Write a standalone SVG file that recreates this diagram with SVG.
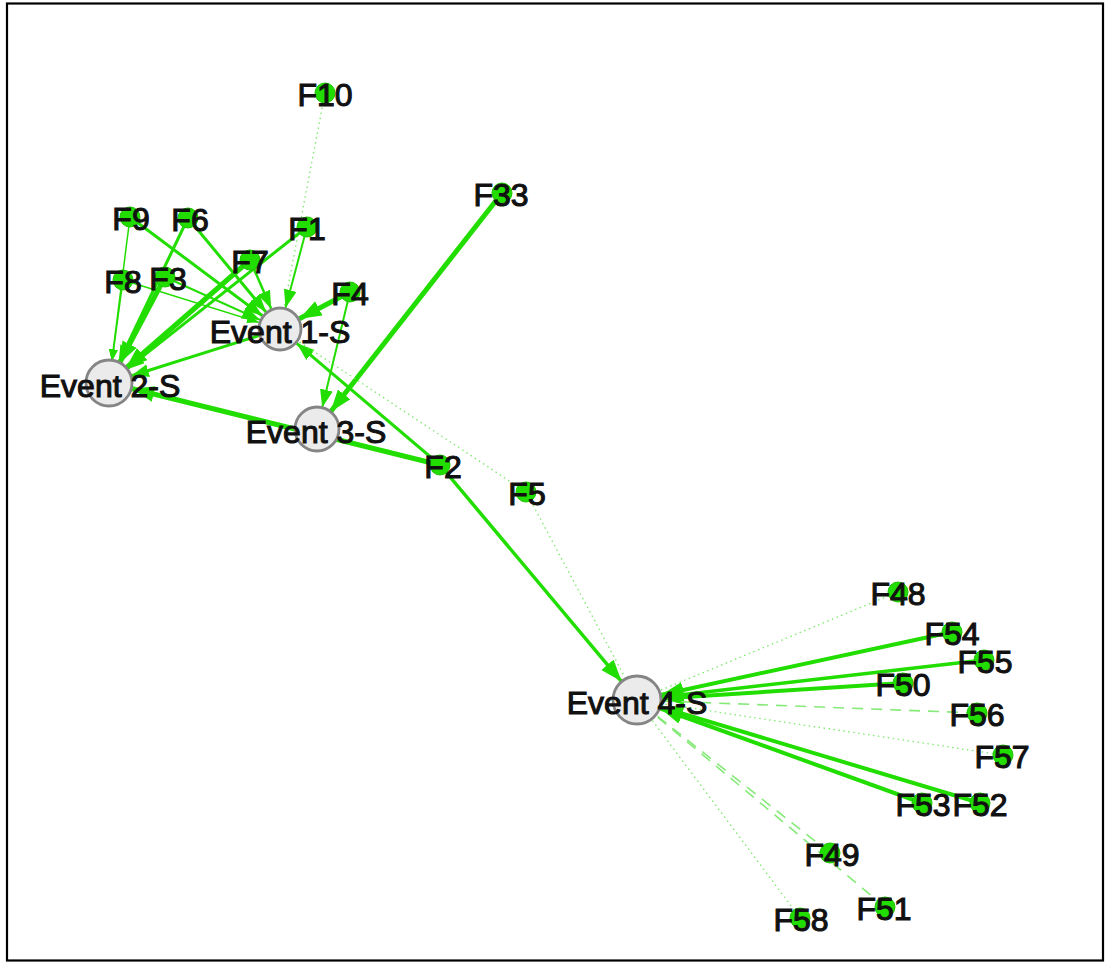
<svg xmlns="http://www.w3.org/2000/svg" width="1108" height="963" viewBox="0 0 1108 963">
  <defs>
    <marker id="arrow-l" markerUnits="userSpaceOnUse" markerWidth="24" markerHeight="18" refX="22" refY="8" orient="auto">
      <path d="M0,0 L22,8 L0,16 z" fill="#22dd00"/>
    </marker>
    <marker id="arrow-m" markerUnits="userSpaceOnUse" markerWidth="20" markerHeight="14" refX="18" refY="6.5" orient="auto">
      <path d="M0,0 L18,6.5 L0,13 z" fill="#22dd00"/>
    </marker>
    <marker id="arrow-s" markerUnits="userSpaceOnUse" markerWidth="14" markerHeight="10" refX="12" refY="4.5" orient="auto">
      <path d="M0,0 L12,4.5 L0,9 z" fill="#22dd00"/>
    </marker>
  </defs>
  <style>
    .edge { fill: none; stroke: #22dd00; stroke-linecap: butt; }
    .dot { fill: none; stroke: #7ce86c; stroke-width: 1.3; stroke-dasharray: 1.5 3.5; }
    .dash { fill: none; stroke: #86ea78; stroke-width: 1.6; stroke-dasharray: 11 8; }
    .event circle { fill: #ebebeb; stroke: #858585; stroke-width: 2.8; }
    .feat circle { fill: #22dd00; stroke: #1cc400; stroke-width: 1; }
    text { font-family: "Liberation Sans", Arial, sans-serif; font-size: 32px; fill: #111; stroke: #111; stroke-width: 1.1; text-anchor: middle; }
  </style>

  <rect x="7" y="3.5" width="1096" height="957" fill="#ffffff" stroke="#000000" stroke-width="2.2"/>

  <g id="connectors">
    <!-- top-left cluster -->
    <line class="dot" x1="325" y1="93" x2="284.1" y2="307.4"/>
    <line class="edge" stroke-width="2" marker-end="url(#arrow-m)" x1="307" y1="227" x2="285.6" y2="307.7"/>
    <line class="edge" stroke-width="3" marker-end="url(#arrow-m)" x1="307" y1="227" x2="126.3" y2="369.4"/>
    <line class="edge" stroke-width="2.5" marker-end="url(#arrow-m)" x1="250" y1="260" x2="271.2" y2="308.8"/>
    <line class="edge" stroke-width="5" marker-end="url(#arrow-l)" x1="250" y1="260" x2="125.6" y2="368.5"/>
    <line class="edge" stroke-width="1.5" marker-end="url(#arrow-s)" x1="130" y1="217" x2="111.8" y2="361.2"/>
    <line class="edge" stroke-width="3" marker-end="url(#arrow-m)" x1="130" y1="217" x2="262.4" y2="315.8"/>
    <line class="edge" stroke-width="3" marker-end="url(#arrow-m)" x1="188" y1="218" x2="266" y2="312.1"/>
    <line class="edge" stroke-width="3" marker-end="url(#arrow-m)" x1="188" y1="218" x2="118.5" y2="363.2"/>
    <line class="edge" stroke-width="1.5" marker-end="url(#arrow-s)" x1="123" y1="280" x2="112" y2="361.2"/>
    <line class="edge" stroke-width="1.5" marker-end="url(#arrow-s)" x1="123" y1="280" x2="259" y2="322.4"/>
    <line class="edge" stroke-width="5" marker-end="url(#arrow-l)" x1="165" y1="277" x2="119.3" y2="363.6"/>
    <line class="edge" stroke-width="2" marker-end="url(#arrow-m)" x1="165" y1="277" x2="260" y2="319.9"/>
    <line class="edge" stroke-width="5" marker-end="url(#arrow-l)" x1="350" y1="292" x2="299.4" y2="318.7"/>
    <line class="edge" stroke-width="2" marker-end="url(#arrow-m)" x1="350" y1="292" x2="322.2" y2="407.6"/>
    <line class="edge" stroke-width="3" marker-end="url(#arrow-m)" x1="259" y1="335.6" x2="131" y2="376"/>
    <line class="edge" stroke-width="5" marker-end="url(#arrow-l)" x1="502" y1="193" x2="330.6" y2="411.7"/>
    <!-- F2 and F5 -->
    <line class="edge" stroke-width="3" marker-end="url(#arrow-m)" x1="440" y1="465" x2="296.8" y2="343.3"/>
    <line class="edge" stroke-width="5" marker-end="url(#arrow-l)" x1="440" y1="465" x2="132.3" y2="388.8"/>
    <line class="edge" stroke-width="3.5" marker-end="url(#arrow-l)" x1="440" y1="465" x2="621.6" y2="681.6"/>
    <line class="dot" x1="526" y1="492" x2="298.3" y2="341.2"/>
    <line class="dot" x1="526" y1="492" x2="625.7" y2="678.8"/>
    <!-- bottom-right cluster -->
    <line class="dot" x1="898" y1="592" x2="660.1" y2="690.4"/>
    <line class="edge" stroke-width="4" marker-end="url(#arrow-l)" x1="952" y1="632" x2="661.4" y2="694.7"/>
    <line class="edge" stroke-width="3.5" marker-end="url(#arrow-l)" x1="984" y1="660" x2="661.8" y2="697.1"/>
    <line class="edge" stroke-width="4" marker-end="url(#arrow-l)" x1="903" y1="683" x2="662" y2="698.4"/>
    <line class="dash" x1="977" y1="713" x2="662" y2="701"/>
    <line class="dot" x1="1003" y1="755" x2="661.7" y2="703.7"/>
    <line class="edge" stroke-width="4" marker-end="url(#arrow-l)" x1="922" y1="803" x2="660.5" y2="708.5"/>
    <line class="edge" stroke-width="4" marker-end="url(#arrow-l)" x1="980" y1="803" x2="661" y2="707.2"/>
    <line class="dash" x1="830" y1="853" x2="656.6" y2="715.5"/>
    <line class="dash" x1="885" y1="907" x2="656.2" y2="716"/>
    <line class="dot" x1="800" y1="918" x2="652" y2="720"/>
  </g>

  <!-- event nodes -->
  <g id="event-1-s" class="event"><circle cx="280" cy="329" r="21"/><text x="280" y="343">Event 1-S</text></g>
  <g id="event-2-s" class="event"><circle cx="109" cy="383" r="23"/><text x="110" y="397">Event 2-S</text></g>
  <g id="event-3-s" class="event"><circle cx="317" cy="429" r="22"/><text x="316" y="443">Event 3-S</text></g>
  <g id="event-4-s" class="event"><circle cx="637" cy="700" r="24"/><text x="637" y="714">Event 4-S</text></g>

  <!-- feature nodes -->
  <g id="f10" class="feat"><circle cx="325" cy="93" r="10"/><text x="325" y="106">F10</text></g>
  <g id="f33" class="feat"><circle cx="502" cy="193" r="10"/><text x="501" y="206">F33</text></g>
  <g id="f9" class="feat"><circle cx="130" cy="217" r="10"/><text x="131" y="230">F9</text></g>
  <g id="f6" class="feat"><circle cx="188" cy="218" r="10"/><text x="190" y="231">F6</text></g>
  <g id="f1" class="feat"><circle cx="307" cy="227" r="10"/><text x="307" y="240">F1</text></g>
  <g id="f7" class="feat"><circle cx="250" cy="260" r="10"/><text x="250" y="273">F7</text></g>
  <g id="f8" class="feat"><circle cx="123" cy="280" r="10"/><text x="123" y="293">F8</text></g>
  <g id="f3" class="feat"><circle cx="165" cy="277" r="10"/><text x="168" y="290">F3</text></g>
  <g id="f4" class="feat"><circle cx="350" cy="292" r="10"/><text x="350" y="305">F4</text></g>
  <g id="f2" class="feat"><circle cx="440" cy="465" r="10"/><text x="443" y="478">F2</text></g>
  <g id="f5" class="feat"><circle cx="526" cy="492" r="10"/><text x="527" y="505">F5</text></g>
  <g id="f48" class="feat"><circle cx="898" cy="592" r="10"/><text x="898" y="605">F48</text></g>
  <g id="f54" class="feat"><circle cx="952" cy="632" r="10"/><text x="952" y="645">F54</text></g>
  <g id="f55" class="feat"><circle cx="984" cy="660" r="10"/><text x="985" y="673">F55</text></g>
  <g id="f50" class="feat"><circle cx="903" cy="683" r="10"/><text x="903" y="696">F50</text></g>
  <g id="f56" class="feat"><circle cx="977" cy="713" r="10"/><text x="977" y="726">F56</text></g>
  <g id="f57" class="feat"><circle cx="1003" cy="755" r="10"/><text x="1002" y="768">F57</text></g>
  <g id="f53" class="feat"><circle cx="922" cy="803" r="10"/><text x="923" y="816">F53</text></g>
  <g id="f52" class="feat"><circle cx="980" cy="803" r="10"/><text x="980" y="816">F52</text></g>
  <g id="f49" class="feat"><circle cx="830" cy="853" r="10"/><text x="832" y="866">F49</text></g>
  <g id="f51" class="feat"><circle cx="885" cy="907" r="10"/><text x="884" y="920">F51</text></g>
  <g id="f58" class="feat"><circle cx="800" cy="918" r="10"/><text x="801" y="931">F58</text></g>
</svg>
